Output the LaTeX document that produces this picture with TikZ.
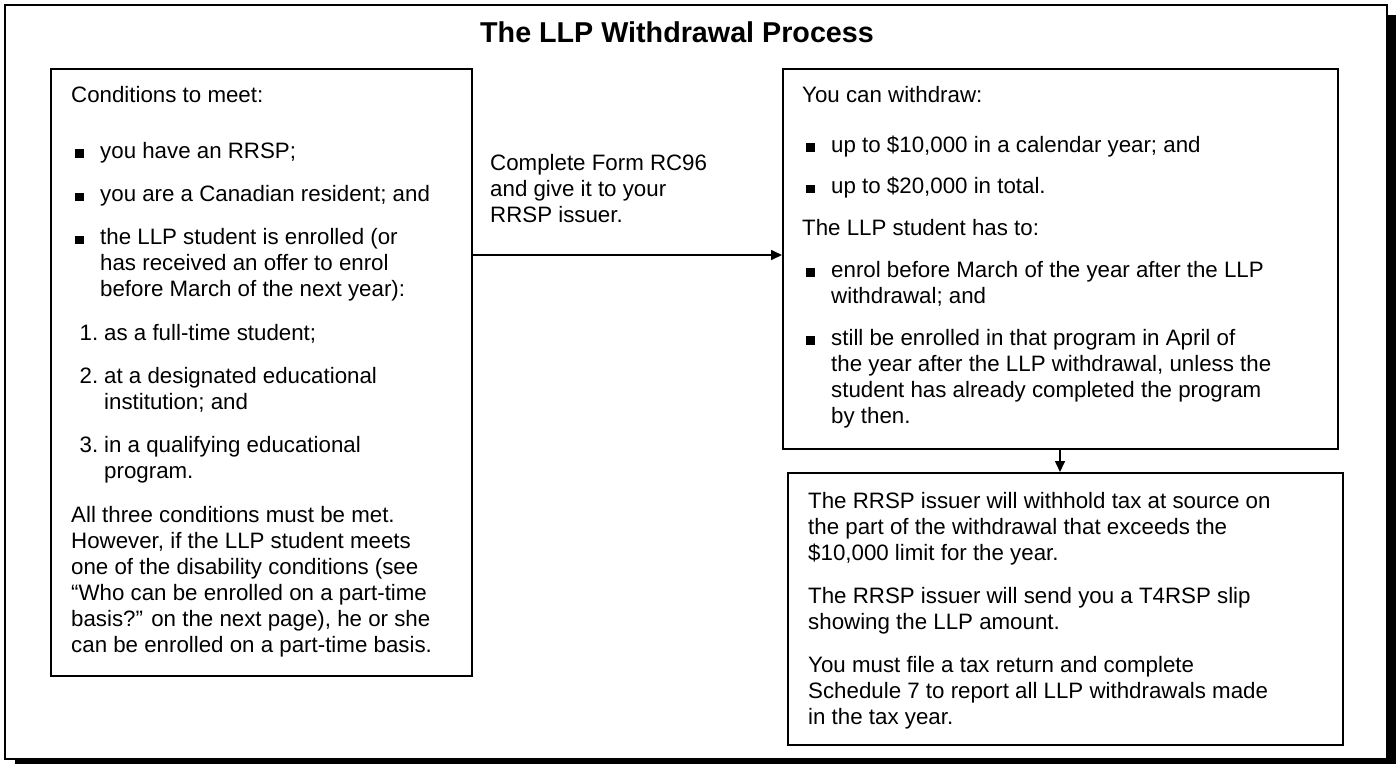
\documentclass[tikz,border=0pt]{standalone}
\usepackage{fontspec}
\setmainfont{Liberation Sans}
\usetikzlibrary{arrows.meta}
\newcommand\bsq{\makebox[29pt][l]{\hspace{4pt}\rule[0.5pt]{8.5pt}{8.5pt}}}
\newcommand\ind{\hspace*{29pt}}
\newcommand\numi[1]{\makebox[27pt][r]{#1}\hspace{6pt}}
\newcommand\indn{\hspace*{33pt}}
\newcommand\sk{18.2}
\begin{document}
\begin{tikzpicture}[x=1pt,y=-1pt,
  txt/.style={inner sep=0pt, align=left, anchor=north west, font=\fontsize{22.3}{26}\selectfont},
  box/.style={draw, line width=1.6pt, fill=white, inner sep=0pt, anchor=north west},
  arr/.style={line width=1.6pt, -{Triangle[length=11pt,width=10pt]}}]
\useasboundingbox (0,0) rectangle (1396,763);
\clip (0,0) rectangle (1396,763);
\fill[black] (15,15) rectangle (1400,770);
\draw[line width=2pt, fill=white] (5,5) rectangle (1387,759);
\node[font=\bfseries\fontsize{28.7}{32}\selectfont, anchor=base, inner sep=0pt] (title) at (677,42) {The LLP Withdrawal Process};
% boxes
\node[box, minimum width=421pt, minimum height=607pt] (L) at (50,68) {};
\node[box, minimum width=555pt, minimum height=380pt] (RT) at (782,68) {};
\node[box, minimum width=555pt, minimum height=272pt] (RB) at (787,472) {};
% left box text
\node[txt] (l1) at (71,102-\sk) {\strut Conditions to meet:};
\node[txt] (l2) at (71,158-\sk) {\strut\bsq you have an RRSP;};
\node[txt] (l3) at (71,201.3-\sk) {\strut\bsq you are a Canadian resident; and};
\node[txt] (l4) at (71,244.6-\sk) {\strut\bsq the LLP student is enrolled (or\\\ind has received an offer to enrol\\\ind before March of the next year):};
\node[txt] (l5) at (71,339.9-\sk) {\strut\numi{1.}as a full-time student;};
\node[txt] (l6) at (71,383.2-\sk) {\strut\numi{2.}at a designated educational\\\indn institution; and};
\node[txt] (l7) at (71,452.5-\sk) {\strut\numi{3.}in a qualifying educational\\\indn program.};
\node[txt] (l8) at (71,521.8-\sk) {\strut All three conditions must be met.\\However, if the LLP student meets\\one of the disability conditions (see\\“Who can be enrolled on a part-time\\basis?” on the next page), he or she\\can be enrolled on a part-time basis.};
% middle text
\node[txt] (m1) at (490,170-\sk) {\strut Complete Form RC96\\and give it to your\\RRSP issuer.};
% right top text
\node[txt] (r1) at (802,102-\sk) {\strut You can withdraw:};
\node[txt] (r2) at (802,152-\sk) {\strut\bsq up to \$10,000 in a calendar year; and};
\node[txt] (r3) at (802,193.75-\sk) {\strut\bsq up to \$20,000 in total.};
\node[txt] (r4) at (802,235.5-\sk) {\strut The LLP student has to:};
\node[txt] (r5) at (802,277.25-\sk) {\strut\bsq enrol before March of the year after the LLP\\\ind withdrawal; and};
\node[txt] (r6) at (802,345-\sk) {\strut\bsq still be enrolled in that program in April of\\\ind the year after the LLP withdrawal, unless the\\\ind student has already completed the program\\\ind by then.};
% bottom text
\node[txt] (b1) at (808,508-\sk) {\strut The RRSP issuer will withhold tax at source on\\the part of the withdrawal that exceeds the\\\$10,000 limit for the year.};
\node[txt] (b2) at (808,603.3-\sk) {\strut The RRSP issuer will send you a T4RSP slip\\showing the LLP amount.};
\node[txt] (b3) at (808,672.6-\sk) {\strut You must file a tax return and complete\\Schedule 7 to report all LLP withdrawals made\\in the tax year.};
% connectors
\coordinate (ay) at (0,255);
\coordinate (dx) at (1060,0);
\draw[arr] (ay -| L.east) -- (ay -| RT.west);
\draw[arr] (dx |- RT.south) -- (dx |- RB.north);
\end{tikzpicture}
\end{document}
